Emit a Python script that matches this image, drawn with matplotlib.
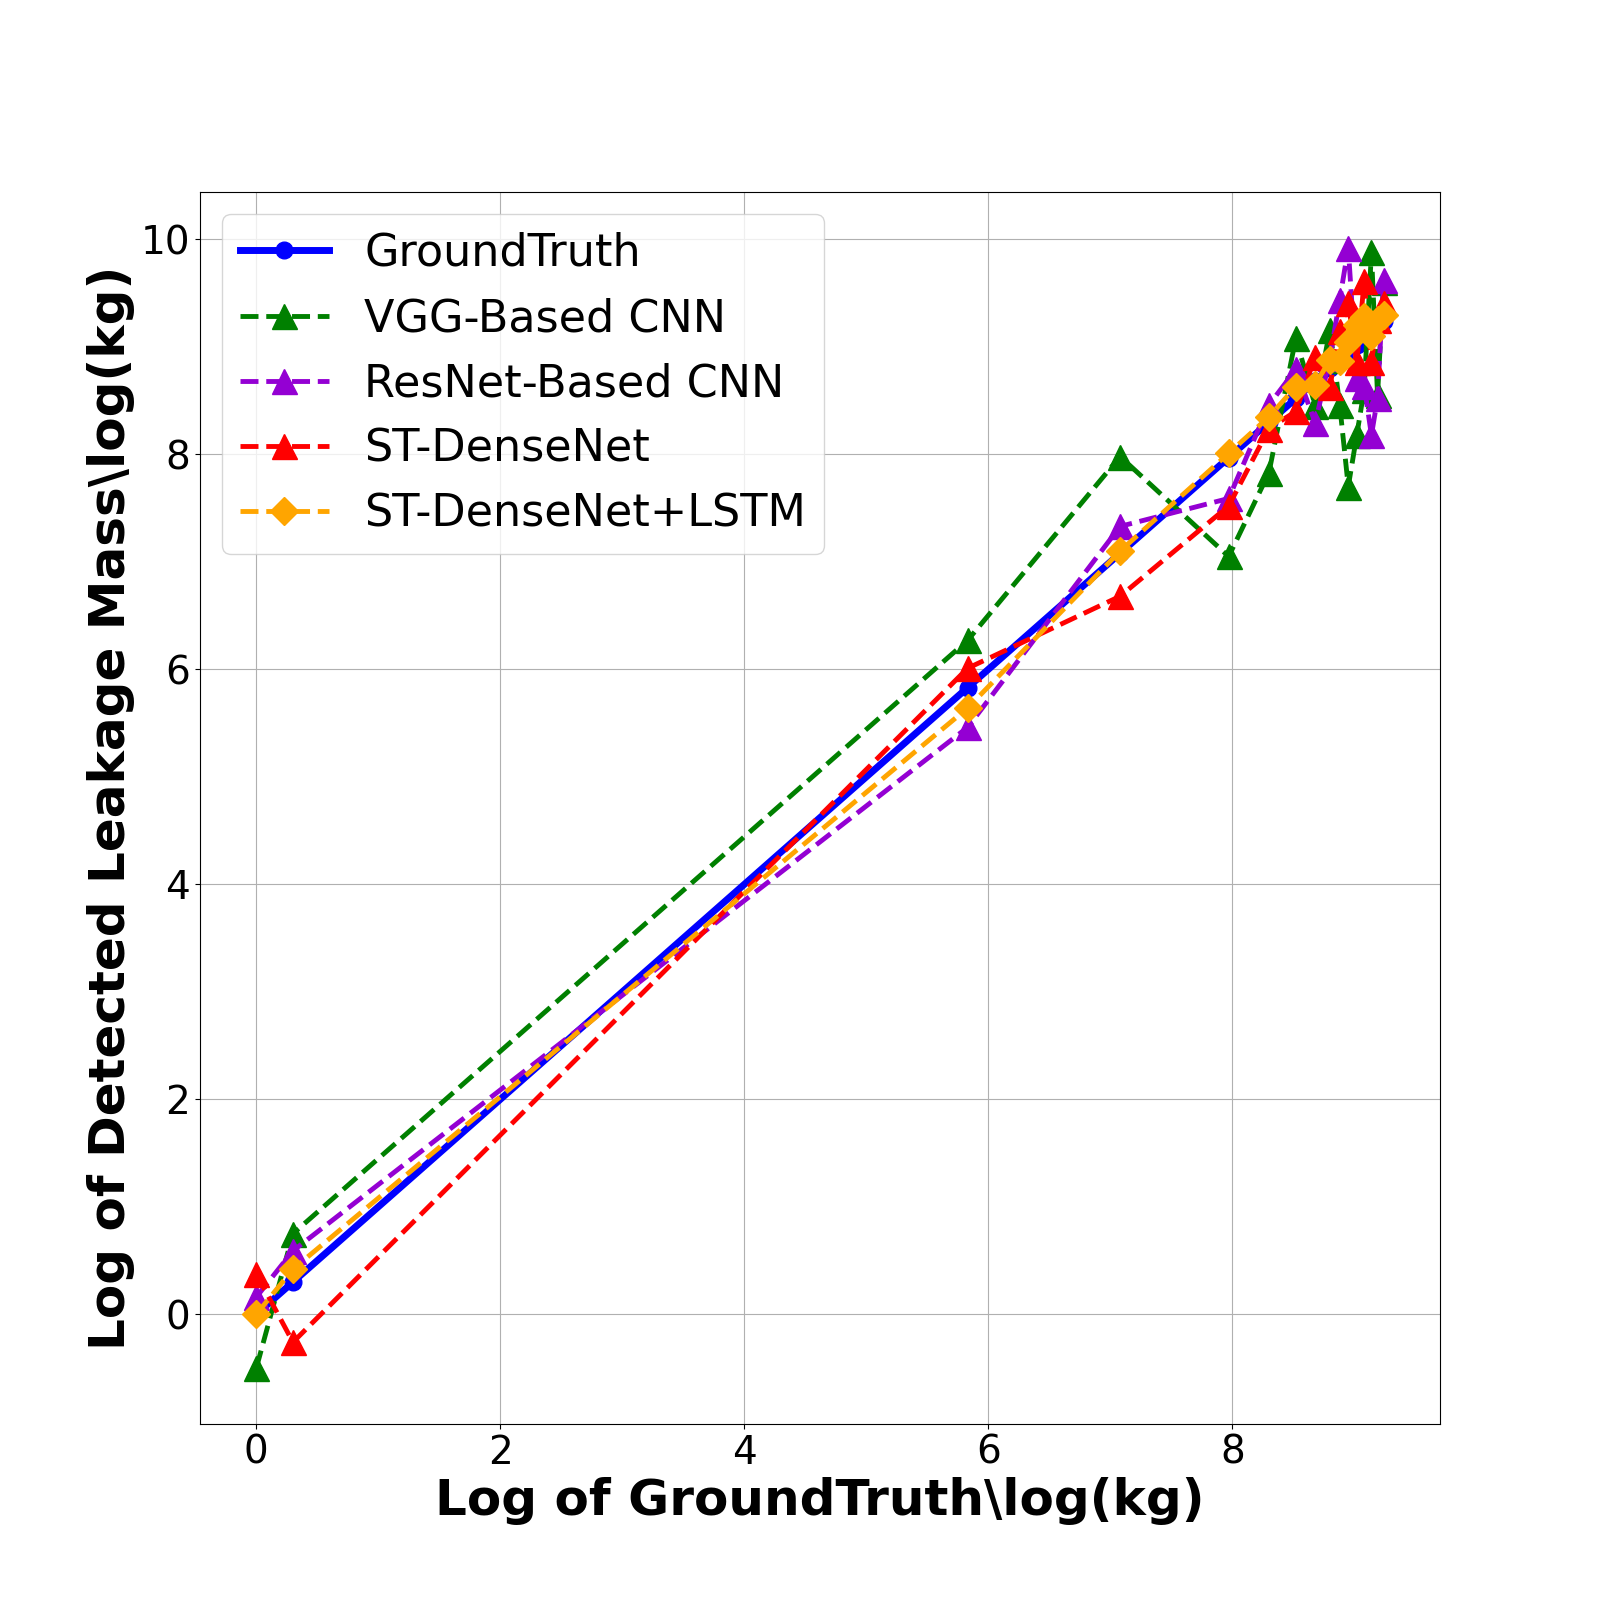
import numpy as np
import matplotlib
matplotlib.use("Agg")
import matplotlib.pyplot as plt

# log of ground truth mass (x) and detected values per model
x_gt = [0, 0.30, 5.83, 7.08, 7.97, 8.30, 8.52, 8.68, 8.80, 8.88, 8.95, 9.02, 9.08, 9.14, 9.19, 9.24]
y_gt = list(x_gt)
y_vgg = [-0.50, 0.75, 6.27, 7.98, 7.05, 7.83, 9.08, 8.45, 9.16, 8.46, 7.70, 8.18, 8.60, 9.88, 8.55, 9.60]
y_resnet = [0.16, 0.59, 5.46, 7.33, 7.59, 8.46, 8.79, 8.29, 8.90, 9.44, 9.92, 8.71, 8.64, 8.18, 8.52, 9.62]
y_dense = [0.375, -0.26, 6.01, 6.68, 7.52, 8.24, 8.40, 8.91, 8.63, 9.15, 9.41, 8.86, 9.61, 8.86, 9.25, 9.41]
y_lstm = [0.0, 0.42, 5.64, 7.10, 8.01, 8.35, 8.63, 8.65, 8.88, 8.87, 9.05, 9.20, 9.28, 9.10, 9.25, 9.30]

fig, ax = plt.subplots(figsize=(16, 16), dpi=100)

ax.plot(x_gt, y_gt, color='blue', linestyle='-', linewidth=5, marker='o', markersize=12, label='GroundTruth')
ax.plot(x_gt, y_vgg, color='green', linestyle='--', linewidth=3.5, marker='^', markersize=18, label='VGG-Based CNN')
ax.plot(x_gt, y_resnet, color='darkviolet', linestyle='--', linewidth=3.5, marker='^', markersize=18, label='ResNet-Based CNN')
ax.plot(x_gt, y_dense, color='red', linestyle='--', linewidth=3.5, marker='^', markersize=18, label='ST-DenseNet')
ax.plot(x_gt, y_lstm, color='orange', linestyle='--', linewidth=3.5, marker='D', markersize=14, label='ST-DenseNet+LSTM')

ax.grid(True)
ax.legend(loc='upper left', fontsize=32)

ax.set_xlabel(r"Log of GroundTruth\log(kg)", fontsize=36, fontweight='bold')
ax.set_ylabel(r"Log of Detected Leakage Mass\log(kg)", fontsize=36, fontweight='bold')
ax.tick_params(labelsize=28)

fig.savefig("out.png", dpi=100)
